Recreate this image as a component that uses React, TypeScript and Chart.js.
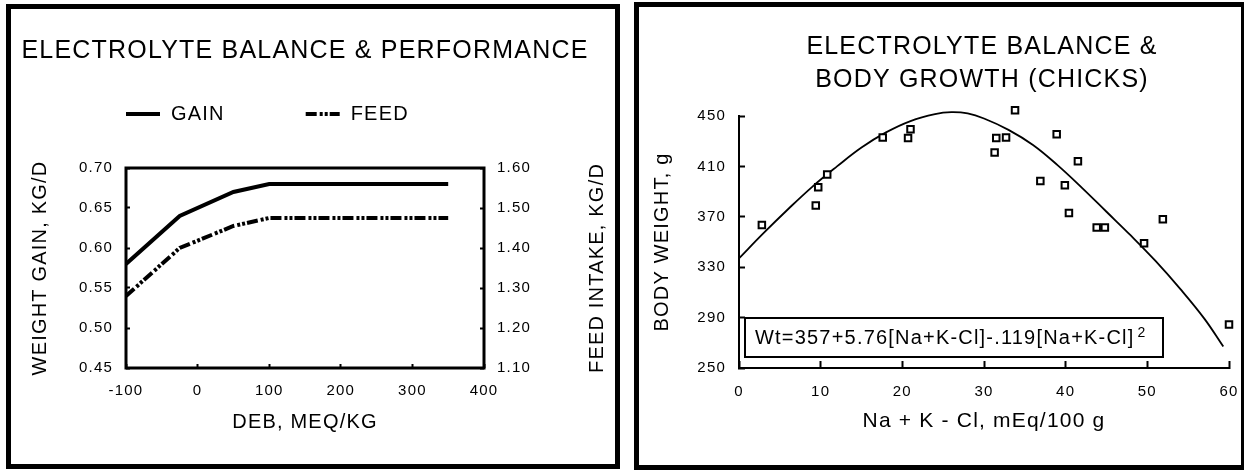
import React, { useEffect, useRef } from 'react';
import { Chart, registerables } from 'chart.js';

Chart.register(...registerables);

const FONT = '"Liberation Sans", Arial, Helvetica, sans-serif';
const LETTER_SPACING = '1.2px';

// ---------- Left chart: electrolyte balance & performance ----------
const debValues = [-100, -25, 50, 100, 350];
const gainValues = [0.58, 0.64, 0.67, 0.68, 0.68];
const feedValues = [1.28, 1.4, 1.455, 1.475, 1.475];
const debTicks = [-100, 0, 100, 200, 300, 400];
const gainTicks = [0.45, 0.5, 0.55, 0.6, 0.65, 0.7];
const feedTicks = [1.1, 1.2, 1.3, 1.4, 1.5, 1.6];

// ---------- Right chart: body growth (chicks) ----------
const chickBalance = [2.8, 9.4, 9.7, 10.8, 17.6, 20.7, 21.0, 24.3, 26.6, 28.0, 31.3, 31.5, 32.7, 33.8, 36.9, 38.9, 39.9, 40.4, 41.5, 43.8, 44.8, 49.6, 51.9, 60.0];
const chickWeight = [363.5, 379, 393.5, 403.5, 433, 432.5, 439.5, 457.5, 463, 455.5, 421, 432.5, 433, 454.5, 398.5, 435.5, 395, 373, 414, 361.5, 361.5, 349, 368, 284.5];
const fitBalance = [0, 3, 6, 9, 12, 15, 18, 21, 24, 26, 28, 30, 33, 36, 39, 42, 45, 48, 51, 54, 57, 59.3];
const fitWeight = [337, 357, 376, 394, 410, 425, 437, 446, 451.5, 453, 452, 448, 439, 427, 411, 393, 374, 355, 335, 313, 289, 267];
const balanceTicks = [0, 10, 20, 30, 40, 50, 60];
const weightTicks = [250, 290, 330, 370, 410, 450];
const equationText = 'Wt=357+5.76[Na+K-Cl]-.119[Na+K-Cl]';
const equationPower = '2';

const spacingPlugin = {
  id: 'letterSpacing',
  beforeUpdate(chart: any) { chart.ctx.letterSpacing = LETTER_SPACING; },
  beforeRender(chart: any) { chart.ctx.letterSpacing = LETTER_SPACING; },
  beforeDraw(chart: any) { chart.ctx.letterSpacing = LETTER_SPACING; },
};

const leftDecor = {
  id: 'leftDecor',
  afterDatasetsDraw(chart: any) {
    const { ctx, chartArea: a } = chart;
    ctx.save();
    ctx.lineWidth = 3;
    ctx.strokeStyle = '#000';
    ctx.strokeRect(a.left, a.top, a.right - a.left, a.bottom - a.top);
    ctx.restore();
  },
  afterDraw(chart: any) {
    const { ctx, chartArea: a } = chart;
    ctx.save();
    ctx.letterSpacing = LETTER_SPACING;
    ctx.fillStyle = '#000';
    ctx.strokeStyle = '#000';
    // legend
    ctx.font = `20px ${FONT}`;
    ctx.textBaseline = 'middle';
    ctx.textAlign = 'left';
    const y = a.top - 54;
    let x = a.left;
    chart.data.datasets.forEach((ds: any) => {
      ctx.setLineDash(ds.borderDash || []);
      ctx.lineWidth = ds.borderWidth;
      ctx.lineCap = 'butt';
      ctx.beginPath();
      ctx.moveTo(x, y);
      ctx.lineTo(x + 34, y);
      ctx.stroke();
      ctx.setLineDash([]);
      ctx.fillText(ds.label, x + 45, y);
      x += 45 + ctx.measureText(ds.label).width + 81;
    });
    // right axis title, reading bottom to top
    const s = chart.scales.y1;
    ctx.textAlign = 'center';
    ctx.translate(s.right - 13, (s.top + s.bottom) / 2);
    ctx.rotate(-Math.PI / 2);
    ctx.fillText(s.options.title.text, 0, 0);
    ctx.restore();
  },
};

const rightDecor = {
  id: 'rightDecor',
  afterDraw(chart: any) {
    const { ctx, chartArea: a } = chart;
    ctx.save();
    ctx.letterSpacing = LETTER_SPACING;
    const left = a.left + 6;
    const top = a.bottom - 50;
    const right = a.left + 424;
    const bottom = a.bottom - 11;
    ctx.fillStyle = '#fff';
    ctx.fillRect(left, top, right - left, bottom - top);
    ctx.lineWidth = 2;
    ctx.strokeStyle = '#000';
    ctx.strokeRect(left, top, right - left, bottom - top);
    ctx.fillStyle = '#000';
    ctx.textBaseline = 'middle';
    ctx.textAlign = 'left';
    ctx.font = `20px ${FONT}`;
    ctx.fillText(equationText, a.left + 16, a.bottom - 30);
    const w = ctx.measureText(equationText).width;
    ctx.font = `14px ${FONT}`;
    ctx.fillText(equationPower, a.left + 16 + w + 3, a.bottom - 35);
    ctx.restore();
  },
};

const tickFont = { family: FONT, size: 15 };
const axisTitleFont = { family: FONT, size: 20 };

function setTicks(values: number[]) {
  return (s: any) => { s.ticks = values.map((v) => ({ value: v })); };
}

export default function App() {
  const leftRef = useRef<HTMLCanvasElement>(null);
  const rightRef = useRef<HTMLCanvasElement>(null);

  useEffect(() => {
    Chart.defaults.font.family = FONT;
    Chart.defaults.color = '#000';

    const left = new Chart(leftRef.current as HTMLCanvasElement, {
      type: 'line',
      data: {
        datasets: [
          {
            label: 'GAIN',
            data: debValues.map((x, i) => ({ x, y: gainValues[i] })),
            yAxisID: 'y',
            borderColor: '#000',
            borderWidth: 4,
            pointRadius: 0,
            tension: 0,
            fill: false,
          },
          {
            label: 'FEED',
            data: debValues.map((x, i) => ({ x, y: feedValues[i] })),
            yAxisID: 'y1',
            borderColor: '#000',
            borderWidth: 4,
            borderDash: [11, 3, 3, 2, 3, 2],
            pointRadius: 0,
            tension: 0,
            fill: false,
          },
        ],
      },
      options: {
        animation: false,
        responsive: true,
        maintainAspectRatio: false,
        events: [],
        layout: { padding: 0 },
        plugins: {
          legend: { display: false },
          tooltip: { enabled: false },
          title: {
            display: true,
            text: 'ELECTROLYTE BALANCE & PERFORMANCE',
            color: '#000',
            font: { family: FONT, size: 25, weight: 'normal', lineHeight: 1.2 },
            padding: { top: 36, bottom: 102 },
          },
        },
        scales: {
          x: {
            type: 'linear',
            min: -100,
            max: 400,
            afterBuildTicks: setTicks(debTicks),
            afterFit: (s: any) => { s.height = 102; },
            ticks: { color: '#000', font: tickFont, padding: 18, maxRotation: 0, autoSkip: false },
            grid: { drawOnChartArea: false, tickLength: -4, tickWidth: 2, tickColor: '#000' },
            border: { display: false },
            title: { display: true, text: 'DEB, MEQ/KG', color: '#000', font: axisTitleFont, padding: { top: 0, bottom: 36 } },
          },
          y: {
            type: 'linear',
            position: 'left',
            min: 0.45,
            max: 0.7,
            afterBuildTicks: setTicks(gainTicks),
            afterFit: (s: any) => { s.width = 126; },
            ticks: { color: '#000', font: tickFont, padding: 17, callback: (v: any) => Number(v).toFixed(2) },
            grid: { drawOnChartArea: false, tickLength: -4, tickWidth: 2, tickColor: '#000' },
            border: { display: false },
            title: { display: true, text: 'WEIGHT GAIN, KG/D', color: '#000', font: axisTitleFont, padding: { top: 28, bottom: 0 } },
          },
          y1: {
            type: 'linear',
            position: 'right',
            min: 1.1,
            max: 1.6,
            afterBuildTicks: setTicks(feedTicks),
            afterFit: (s: any) => { s.width = 126; },
            ticks: { color: '#000', font: tickFont, padding: 17, callback: (v: any) => Number(v).toFixed(2) },
            grid: { drawOnChartArea: false, tickLength: -4, tickWidth: 2, tickColor: '#000' },
            border: { display: false },
            title: { display: false, text: 'FEED INTAKE, KG/D' },
          },
        },
      } as any,
      plugins: [spacingPlugin, leftDecor],
    });

    const right = new Chart(rightRef.current as HTMLCanvasElement, {
      type: 'scatter',
      data: {
        datasets: [
          {
            label: 'Body weight',
            data: chickBalance.map((x, i) => ({ x, y: chickWeight[i] })),
            pointStyle: 'rect',
            pointRadius: 4.6,
            pointBorderWidth: 2,
            pointBackgroundColor: '#fff',
            pointBorderColor: '#000',
            showLine: false,
            clip: false,
          },
          {
            label: 'Fitted curve',
            data: fitBalance.map((x, i) => ({ x, y: fitWeight[i] })),
            showLine: true,
            borderColor: '#000',
            borderWidth: 1.8,
            pointRadius: 0,
            tension: 0.4,
            clip: false,
          },
        ],
      },
      options: {
        animation: false,
        responsive: true,
        maintainAspectRatio: false,
        events: [],
        layout: { padding: 0 },
        plugins: {
          legend: { display: false },
          tooltip: { enabled: false },
          title: {
            display: true,
            text: ['ELECTROLYTE BALANCE &', 'BODY GROWTH (CHICKS)'],
            color: '#000',
            font: { family: FONT, size: 25, weight: 'normal', lineHeight: 1.32 },
            padding: { top: 30.5, bottom: 19.5 },
          },
        },
        scales: {
          x: {
            type: 'linear',
            min: 0,
            max: 60,
            afterBuildTicks: setTicks(balanceTicks),
            afterFit: (s: any) => { s.height = 102; },
            ticks: { color: '#000', font: tickFont, padding: 22, maxRotation: 0, autoSkip: false },
            grid: { drawOnChartArea: false, tickLength: -7, tickWidth: 2, tickColor: '#000' },
            border: { display: true, width: 2, color: '#000' },
            title: { display: true, text: 'Na + K - Cl, mEq/100 g', color: '#000', font: { family: FONT, size: 21 }, padding: { top: 0, bottom: 36 } },
          },
          y: {
            type: 'linear',
            position: 'left',
            min: 250,
            max: 450,
            afterBuildTicks: setTicks(weightTicks),
            afterFit: (s: any) => { s.width = 117; },
            ticks: { color: '#000', font: tickFont, padding: 19 },
            grid: { drawOnChartArea: false, tickLength: -6, tickWidth: 2, tickColor: '#000' },
            border: { display: true, width: 2, color: '#000' },
            title: { display: true, text: 'BODY WEIGHT, g', color: '#000', font: axisTitleFont, padding: { top: 28, bottom: 0 } },
          },
          pad: {
            type: 'linear',
            position: 'right',
            display: true,
            min: 0,
            max: 1,
            ticks: { display: false },
            grid: { display: false },
            border: { display: false },
            afterFit: (s: any) => { s.width = 113; },
          },
        },
      } as any,
      plugins: [spacingPlugin, rightDecor],
    });

    return () => {
      left.destroy();
      right.destroy();
    };
  }, []);

  const panel = (l: number, t: number, w: number, h: number): React.CSSProperties => ({
    position: 'absolute', left: l, top: t, width: w, height: h,
    border: '5px solid #000', boxSizing: 'border-box', pointerEvents: 'none',
  });

  return (
    <div style={{ position: 'absolute', left: 0, top: 0, width: 1244, height: 470, overflow: 'hidden', background: '#fff' }}>
      <div style={{ position: 'absolute', left: 0, top: 0, width: 610, height: 470 }}>
        <canvas ref={leftRef} />
      </div>
      <div style={{ position: 'absolute', left: 622, top: 0, width: 720, height: 470 }}>
        <canvas ref={rightRef} />
      </div>
      <div style={panel(6, 4, 614, 465)} />
      <div style={panel(634, 2, 612, 468)} />
    </div>
  );
}
